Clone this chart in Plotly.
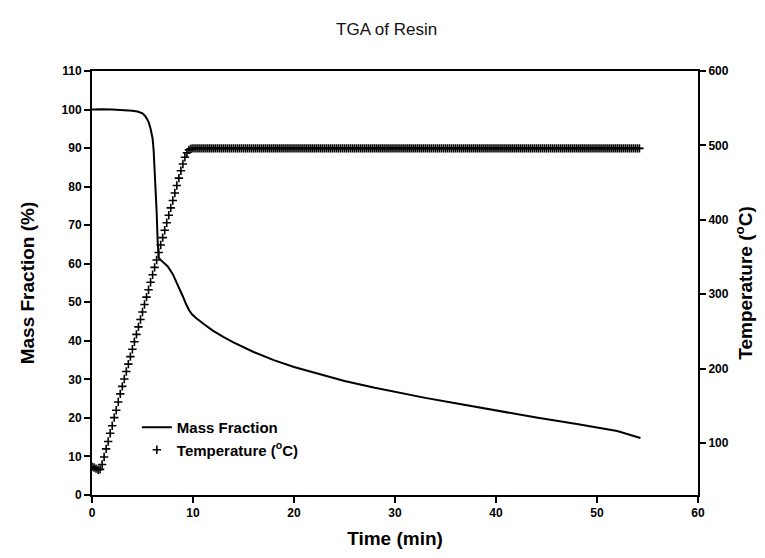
import plotly.graph_objects as go

# ---- Data ----
# Mass fraction (%) vs time (min)
mass_time = [0, 1, 2, 3, 4, 4.5, 5.0, 5.3, 5.6, 5.8, 6.0, 6.1, 6.2, 6.3, 6.4, 6.5, 6.55,
             6.6, 6.8, 7.0, 7.5, 8.0, 8.35, 9.0, 9.3, 9.6, 9.9, 10.3, 11, 12, 13, 14, 16,
             18, 20, 22, 25, 28, 30, 33, 36, 40, 44, 48, 52, 54.3]
mass_frac = [100.0, 100.1, 100.0, 99.9, 99.7, 99.5, 99.0, 98.2, 96.8, 95.0, 92.5, 89.5,
             85.0, 79.5, 73.5, 66.0, 62.5, 61.6, 61.0, 60.5, 59.3, 57.3, 55.4, 51.5, 49.6,
             48.0, 46.9, 45.9, 44.5, 42.6, 41.0, 39.6, 37.1, 35.0, 33.2, 31.7, 29.6, 27.8,
             26.7, 25.2, 23.8, 21.9, 20.1, 18.4, 16.6, 14.8]

# Temperature (deg C) samples vs time (min)
temp_time = [
    0.0, 0.2, 0.4, 0.6, 0.8, 1.0, 1.2, 1.4, 1.6, 1.8,
    2.0, 2.2, 2.4, 2.6, 2.8, 3.0, 3.2, 3.4, 3.6, 3.8,
    4.0, 4.2, 4.4, 4.6, 4.8, 5.0, 5.2, 5.4, 5.6, 5.8,
    6.0, 6.2, 6.4, 6.6, 6.8, 7.0, 7.2, 7.4, 7.6, 7.8,
    8.0, 8.2, 8.4, 8.6, 8.8, 9.0, 9.2, 9.4, 9.6, 9.8,
    10.0, 10.2, 10.4, 10.6, 10.8, 11.0, 11.2, 11.4, 11.6, 11.8,
    12.0, 12.2, 12.4, 12.6, 12.8, 13.0, 13.2, 13.4, 13.6, 13.8,
    14.0, 14.2, 14.4, 14.6, 14.8, 15.0, 15.2, 15.4, 15.6, 15.8,
    16.0, 16.2, 16.4, 16.6, 16.8, 17.0, 17.2, 17.4, 17.6, 17.8,
    18.0, 18.2, 18.4, 18.6, 18.8, 19.0, 19.2, 19.4, 19.6, 19.8,
    20.0, 20.2, 20.4, 20.6, 20.8, 21.0, 21.2, 21.4, 21.6, 21.8,
    22.0, 22.2, 22.4, 22.6, 22.8, 23.0, 23.2, 23.4, 23.6, 23.8,
    24.0, 24.2, 24.4, 24.6, 24.8, 25.0, 25.2, 25.4, 25.6, 25.8,
    26.0, 26.2, 26.4, 26.6, 26.8, 27.0, 27.2, 27.4, 27.6, 27.8,
    28.0, 28.2, 28.4, 28.6, 28.8, 29.0, 29.2, 29.4, 29.6, 29.8,
    30.0, 30.2, 30.4, 30.6, 30.8, 31.0, 31.2, 31.4, 31.6, 31.8,
    32.0, 32.2, 32.4, 32.6, 32.8, 33.0, 33.2, 33.4, 33.6, 33.8,
    34.0, 34.2, 34.4, 34.6, 34.8, 35.0, 35.2, 35.4, 35.6, 35.8,
    36.0, 36.2, 36.4, 36.6, 36.8, 37.0, 37.2, 37.4, 37.6, 37.8,
    38.0, 38.2, 38.4, 38.6, 38.8, 39.0, 39.2, 39.4, 39.6, 39.8,
    40.0, 40.2, 40.4, 40.6, 40.8, 41.0, 41.2, 41.4, 41.6, 41.8,
    42.0, 42.2, 42.4, 42.6, 42.8, 43.0, 43.2, 43.4, 43.6, 43.8,
    44.0, 44.2, 44.4, 44.6, 44.8, 45.0, 45.2, 45.4, 45.6, 45.8,
    46.0, 46.2, 46.4, 46.6, 46.8, 47.0, 47.2, 47.4, 47.6, 47.8,
    48.0, 48.2, 48.4, 48.6, 48.8, 49.0, 49.2, 49.4, 49.6, 49.8,
    50.0, 50.2, 50.4, 50.6, 50.8, 51.0, 51.2, 51.4, 51.6, 51.8,
    52.0, 52.2, 52.4, 52.6, 52.8, 53.0, 53.2, 53.4, 53.6, 53.8,
    54.0, 54.2]
temp_c = [
    68, 67, 65.5, 64, 64.5, 71, 81, 92, 102, 113,
    123, 134, 144, 155, 166, 176, 186, 196, 206, 216,
    226, 236, 246, 256, 266, 276, 286, 296, 306, 316,
    326, 336, 346, 356, 366, 376, 386, 396, 406, 416,
    426, 436, 446, 456, 466, 475, 484, 490, 494, 495.5,
    496, 496, 496, 496, 496, 496, 496, 496, 496, 496,
    496, 496, 496, 496, 496, 496, 496, 496, 496, 496,
    496, 496, 496, 496, 496, 496, 496, 496, 496, 496,
    496, 496, 496, 496, 496, 496, 496, 496, 496, 496,
    496, 496, 496, 496, 496, 496, 496, 496, 496, 496,
    496, 496, 496, 496, 496, 496, 496, 496, 496, 496,
    496, 496, 496, 496, 496, 496, 496, 496, 496, 496,
    496, 496, 496, 496, 496, 496, 496, 496, 496, 496,
    496, 496, 496, 496, 496, 496, 496, 496, 496, 496,
    496, 496, 496, 496, 496, 496, 496, 496, 496, 496,
    496, 496, 496, 496, 496, 496, 496, 496, 496, 496,
    496, 496, 496, 496, 496, 496, 496, 496, 496, 496,
    496, 496, 496, 496, 496, 496, 496, 496, 496, 496,
    496, 496, 496, 496, 496, 496, 496, 496, 496, 496,
    496, 496, 496, 496, 496, 496, 496, 496, 496, 496,
    496, 496, 496, 496, 496, 496, 496, 496, 496, 496,
    496, 496, 496, 496, 496, 496, 496, 496, 496, 496,
    496, 496, 496, 496, 496, 496, 496, 496, 496, 496,
    496, 496, 496, 496, 496, 496, 496, 496, 496, 496,
    496, 496, 496, 496, 496, 496, 496, 496, 496, 496,
    496, 496, 496, 496, 496, 496, 496, 496, 496, 496,
    496, 496, 496, 496, 496, 496, 496, 496, 496, 496,
    496, 496]

x_ticks = [0, 10, 20, 30, 40, 50, 60]
y_ticks = [0, 10, 20, 30, 40, 50, 60, 70, 80, 90, 100, 110]
y2_ticks = [100, 200, 300, 400, 500, 600]

FONT = "Arial, Liberation Sans, sans-serif"

fig = go.Figure()
fig.add_trace(go.Scatter(
    x=mass_time, y=mass_frac, mode="lines", name="Mass Fraction",
    line=dict(color="black", width=2), yaxis="y"))
fig.add_trace(go.Scatter(
    x=temp_time, y=temp_c, mode="markers", name="Temperature (<sup>o</sup>C)",
    marker=dict(symbol="cross-thin", size=6, color="black",
                line=dict(width=1.6, color="black")),
    yaxis="y2"))

axis_common = dict(showline=True, linecolor="black", linewidth=2, ticks="outside",
                   ticklen=6, tickwidth=2, tickcolor="black", showgrid=False,
                   zeroline=False,
                   tickfont=dict(family=FONT, size=12, color="black", weight="bold"))

title_font = dict(family=FONT, size=19, color="black", weight="bold")

fig.update_layout(
    width=765, height=558,
    margin=dict(l=84, r=75, t=63, b=71),
    paper_bgcolor="white", plot_bgcolor="white",
    font=dict(family=FONT, color="black"),
    title=dict(text="TGA of Resin", x=0.495, xanchor="center", yref="container",
               y=1 - 21 / 558, yanchor="middle",
               font=dict(family=FONT, size=17, color="#111111")),
    xaxis=dict(range=[0, 60], tickvals=x_ticks, mirror=True,
               title=dict(text="Time (min)", standoff=12, font=title_font),
               **axis_common),
    yaxis=dict(range=[0, 110], tickvals=y_ticks,
               title=dict(text="Mass Fraction (%)", standoff=22, font=title_font),
               **axis_common),
    yaxis2=dict(range=[30, 600], tickvals=y2_ticks, overlaying="y", side="right",
                title=dict(text="Temperature (<sup>o</sup>C)", standoff=11, font=title_font),
                **axis_common),
    legend=dict(x=0.074, y=0.198, xanchor="left", yanchor="top",
                bgcolor="rgba(0,0,0,0)", borderwidth=0,
                font=dict(family=FONT, size=15, color="black", weight="bold"),
                tracegroupgap=0),
    showlegend=True,
)

fig.write_html("out.html")
